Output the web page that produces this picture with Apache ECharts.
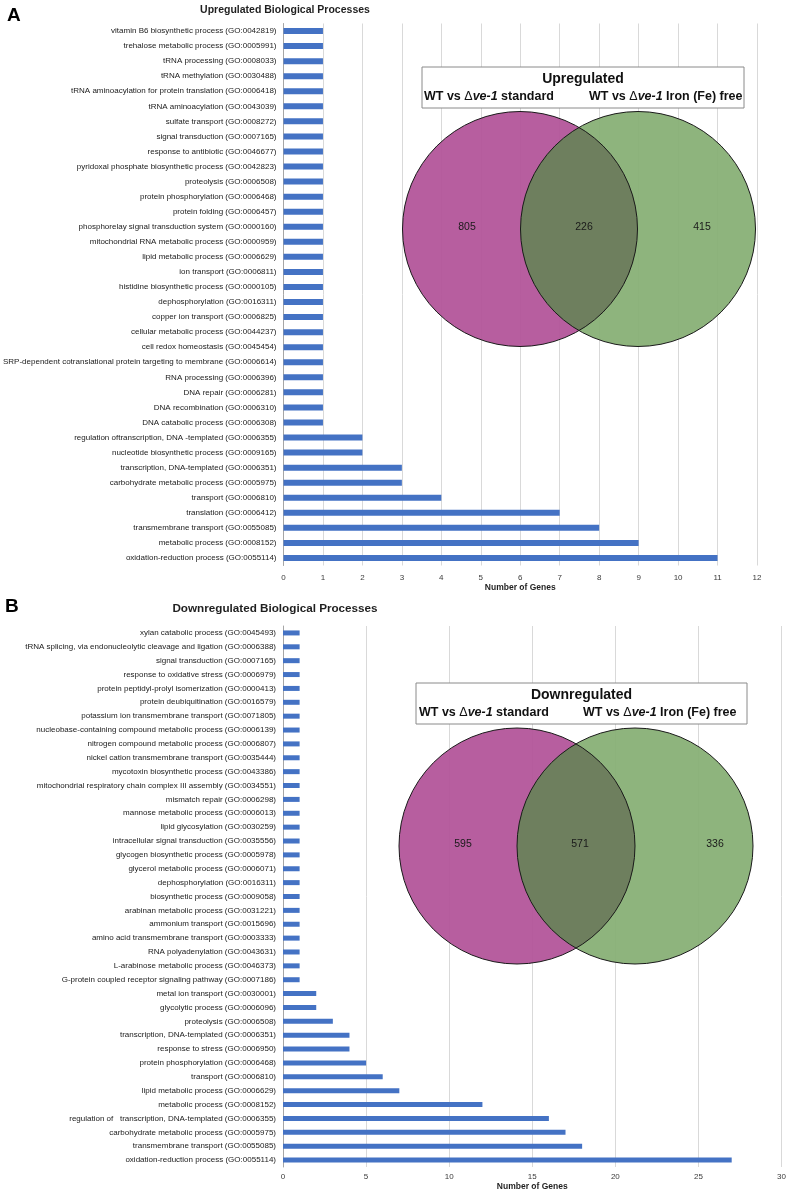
<!DOCTYPE html>
<html>
<head>
<meta charset="utf-8">
<script src="https://cdn.jsdelivr.net/npm/echarts@6/dist/echarts.min.js"></script>
<style>
html,body{margin:0;padding:0;background:#fff;}
#chart{width:789px;height:1198px;}
</style>
</head>
<body>
<div id="chart"></div>
<script>
// ---------- DATA ----------
const upCategories = [
  'vitamin B6 biosynthetic process (GO:0042819)',
  'trehalose metabolic process (GO:0005991)',
  'tRNA processing (GO:0008033)',
  'tRNA methylation (GO:0030488)',
  'tRNA aminoacylation for protein translation (GO:0006418)',
  'tRNA aminoacylation (GO:0043039)',
  'sulfate transport (GO:0008272)',
  'signal transduction (GO:0007165)',
  'response to antibiotic (GO:0046677)',
  'pyridoxal phosphate biosynthetic process (GO:0042823)',
  'proteolysis (GO:0006508)',
  'protein phosphorylation (GO:0006468)',
  'protein folding (GO:0006457)',
  'phosphorelay signal transduction system (GO:0000160)',
  'mitochondrial RNA metabolic process (GO:0000959)',
  'lipid metabolic process (GO:0006629)',
  'ion transport (GO:0006811)',
  'histidine biosynthetic process (GO:0000105)',
  'dephosphorylation (GO:0016311)',
  'copper ion transport (GO:0006825)',
  'cellular metabolic process (GO:0044237)',
  'cell redox homeostasis (GO:0045454)',
  'SRP-dependent cotranslational protein targeting to membrane (GO:0006614)',
  'RNA processing (GO:0006396)',
  'DNA repair (GO:0006281)',
  'DNA recombination (GO:0006310)',
  'DNA catabolic process (GO:0006308)',
  'regulation oftranscription, DNA -templated (GO:0006355)',
  'nucleotide biosynthetic process (GO:0009165)',
  'transcription, DNA-templated (GO:0006351)',
  'carbohydrate metabolic process (GO:0005975)',
  'transport (GO:0006810)',
  'translation (GO:0006412)',
  'transmembrane transport (GO:0055085)',
  'metabolic process (GO:0008152)',
  'oxidation-reduction process (GO:0055114)'
];
const upValues = [1,1,1,1,1,1,1,1,1,1,1,1,1,1,1,1,1,1,1,1,1,1,1,1,1,1,1,2,2,3,3,4,7,8,9,11];

const downCategories = [
  'xylan catabolic process (GO:0045493)',
  'tRNA splicing, via endonucleolytic cleavage and ligation (GO:0006388)',
  'signal transduction (GO:0007165)',
  'response to oxidative stress (GO:0006979)',
  'protein peptidyl-prolyl isomerization (GO:0000413)',
  'protein deubiquitination (GO:0016579)',
  'potassium ion transmembrane transport (GO:0071805)',
  'nucleobase-containing compound metabolic process (GO:0006139)',
  'nitrogen compound metabolic process (GO:0006807)',
  'nickel cation transmembrane transport (GO:0035444)',
  'mycotoxin biosynthetic process (GO:0043386)',
  'mitochondrial respiratory chain complex III assembly (GO:0034551)',
  'mismatch repair (GO:0006298)',
  'mannose metabolic process (GO:0006013)',
  'lipid glycosylation (GO:0030259)',
  'intracellular signal transduction (GO:0035556)',
  'glycogen biosynthetic process (GO:0005978)',
  'glycerol metabolic process (GO:0006071)',
  'dephosphorylation (GO:0016311)',
  'biosynthetic process (GO:0009058)',
  'arabinan metabolic process (GO:0031221)',
  'ammonium transport (GO:0015696)',
  'amino acid transmembrane transport (GO:0003333)',
  'RNA polyadenylation (GO:0043631)',
  'L-arabinose metabolic process (GO:0046373)',
  'G-protein coupled receptor signaling pathway (GO:0007186)',
  'metal ion transport (GO:0030001)',
  'glycolytic process (GO:0006096)',
  'proteolysis (GO:0006508)',
  'transcription, DNA-templated (GO:0006351)',
  'response to stress (GO:0006950)',
  'protein phosphorylation (GO:0006468)',
  'transport (GO:0006810)',
  'lipid metabolic process (GO:0006629)',
  'metabolic process (GO:0008152)',
  'regulation of   transcription, DNA-templated (GO:0006355)',
  'carbohydrate metabolic process (GO:0005975)',
  'transmembrane transport (GO:0055085)',
  'oxidation-reduction process (GO:0055114)'
];
const downValues = [1,1,1,1,1,1,1,1,1,1,1,1,1,1,1,1,1,1,1,1,1,1,1,1,1,1,2,2,3,4,4,5,6,7,12,16,17,18,27];

const upTicks = {min:0, max:12, interval:1};
const downTicks = {min:0, max:30, interval:5};

const upVennCounts = [805, 226, 415];     // only standard, both, only Fe-free
const downVennCounts = [595, 571, 336];
const vennSetLabels = ['standard', 'Iron (Fe) free'];

// ---------- LAYOUT / STYLE ----------
const FONT = 'Liberation Sans';
const BAR_COLOR = '#4472C4';
const MAGENTA = '#b3559a';
const GREEN = '#88b076';
const OVERLAP = '#6d7d5d';

const upVennLayout = {box:[422,67,322,41], titleY:79, subY:97, subX:[424,589], cy:229, c1x:520, c2x:638, r:117.5, numY:227, numX:[467,584,702], title:'Upregulated'};
const downVennLayout = {box:[416,683,331,41], titleY:695, subY:713, subX:[419,583], cy:846, c1x:517, c2x:635, r:118, numY:844, numX:[463,580,715], title:'Downregulated'};

function lensPoints(L) {
  const half = (L.c2x - L.c1x) / 2;
  const th = Math.acos(half / L.r);
  const pts = [];
  const N = 60;
  for (let k = 0; k <= N; k++) {           // right boundary: arc of left circle
    const a = -th + 2 * th * k / N;
    pts.push([L.c1x + L.r * Math.cos(a), L.cy + L.r * Math.sin(a)]);
  }
  for (let k = 0; k <= N; k++) {           // left boundary: arc of right circle
    const a = Math.PI - th + 2 * th * k / N;
    pts.push([L.c2x + L.r * Math.cos(a), L.cy + L.r * Math.sin(a)]);
  }
  return pts;
}

function vennGraphics(L, counts) {
  const els = [];
  els.push({type:'circle', z:20, shape:{cx:L.c1x, cy:L.cy, r:L.r}, style:{fill:MAGENTA, opacity:0.95}});
  els.push({type:'circle', z:21, shape:{cx:L.c2x, cy:L.cy, r:L.r}, style:{fill:GREEN, opacity:0.95}});
  els.push({type:'polygon', z:22, shape:{points:lensPoints(L)}, style:{fill:OVERLAP, opacity:0.96}});
  els.push({type:'circle', z:23, shape:{cx:L.c1x, cy:L.cy, r:L.r}, style:{fill:'none', stroke:'#1a1a1a', lineWidth:1}});
  els.push({type:'circle', z:23, shape:{cx:L.c2x, cy:L.cy, r:L.r}, style:{fill:'none', stroke:'#1a1a1a', lineWidth:1}});
  els.push({type:'rect', z:24, shape:{x:L.box[0], y:L.box[1], width:L.box[2], height:L.box[3]}, style:{fill:'#fff', stroke:'#8a8a8a', lineWidth:1}});
  els.push({type:'text', z:25, x:(L.box[0] + L.box[2]/2), y:L.titleY, style:{text:L.title, fontFamily:FONT, fontSize:14, fontWeight:'bold', fill:'#111', align:'center', verticalAlign:'middle'}});
  const rich = {
    b:{fontFamily:FONT, fontSize:12.5, fontWeight:'bold', fill:'#111'},
    d:{fontFamily:FONT, fontSize:12.5, fontWeight:'normal', fill:'#111'},
    i:{fontFamily:FONT, fontSize:12.5, fontWeight:'bold', fontStyle:'italic', fill:'#111'}
  };
  vennSetLabels.forEach(function(lab, k){
    els.push({type:'text', z:25, x:L.subX[k], y:L.subY, style:{text:'{b|WT vs }{d|\u0394}{i|ve-1}{b| ' + lab + '}', rich:rich, align:'left', verticalAlign:'middle'}});
  });
  counts.forEach(function(c, k){
    els.push({type:'text', z:25, x:L.numX[k], y:L.numY, style:{text:String(c), fontFamily:FONT, fontSize:10.5, fill:'#1a1a1a', align:'center', verticalAlign:'middle'}});
  });
  return els;
}

const chart = echarts.init(document.getElementById('chart'), null, {renderer:'canvas'});

function xAxisCfg(grid, t, margin, gap) {
  return {
    gridIndex:grid, type:'value', min:t.min, max:t.max, interval:t.interval,
    axisLine:{show:false}, axisTick:{show:false},
    axisLabel:{fontFamily:FONT, fontSize:8, color:'#3a3a3a', margin:margin},
    splitLine:{show:true, lineStyle:{color:'#d9d9d9', width:1}},
    name:'Number of Genes', nameLocation:'middle', nameGap:gap,
    nameTextStyle:{fontFamily:FONT, fontSize:8.5, fontWeight:'bold', color:'#1f1f1f'}
  };
}
function yAxisCfg(grid, cats) {
  return {
    gridIndex:grid, type:'category', data:cats, inverse:true,
    axisLine:{show:true, lineStyle:{color:'#a6a6a6', width:1}},
    axisTick:{show:false},
    axisLabel:{fontFamily:FONT, fontSize:8, color:'#1a1a1a', margin:7, interval:0},
    splitLine:{show:false}
  };
}

const option = {
  animation:false,
  backgroundColor:'#fff',
  grid:[
    {left:283, top:23.5, width:474, height:542, containLabel:false},
    {left:283, top:626, width:499, height:541, containLabel:false}
  ],
  xAxis:[ xAxisCfg(0, upTicks, 8, 18), xAxisCfg(1, downTicks, 6, 15) ],
  yAxis:[ yAxisCfg(0, upCategories), yAxisCfg(1, downCategories) ],
  series:[
    {type:'bar', xAxisIndex:0, yAxisIndex:0, data:upValues, barWidth:6, itemStyle:{color:BAR_COLOR}},
    {type:'bar', xAxisIndex:1, yAxisIndex:1, data:downValues, barWidth:5, itemStyle:{color:BAR_COLOR}}
  ],
  graphic:[
    {type:'text', x:7, y:16, style:{text:'A', fontFamily:FONT, fontSize:19, fontWeight:'bold', fill:'#000', verticalAlign:'middle'}},
    {type:'text', x:5, y:607, style:{text:'B', fontFamily:FONT, fontSize:19, fontWeight:'bold', fill:'#000', verticalAlign:'middle'}},
    {type:'text', x:285, y:10, style:{text:'Upregulated Biological Processes', fontFamily:FONT, fontSize:10.5, fontWeight:'bold', fill:'#1f1f1f', align:'center', verticalAlign:'middle'}},
    {type:'text', x:275, y:609, style:{text:'Downregulated Biological Processes', fontFamily:FONT, fontSize:11.7, fontWeight:'bold', fill:'#1f1f1f', align:'center', verticalAlign:'middle'}}
  ].concat(vennGraphics(upVennLayout, upVennCounts)).concat(vennGraphics(downVennLayout, downVennCounts))
};
chart.setOption(option);
</script>
</body>
</html>
